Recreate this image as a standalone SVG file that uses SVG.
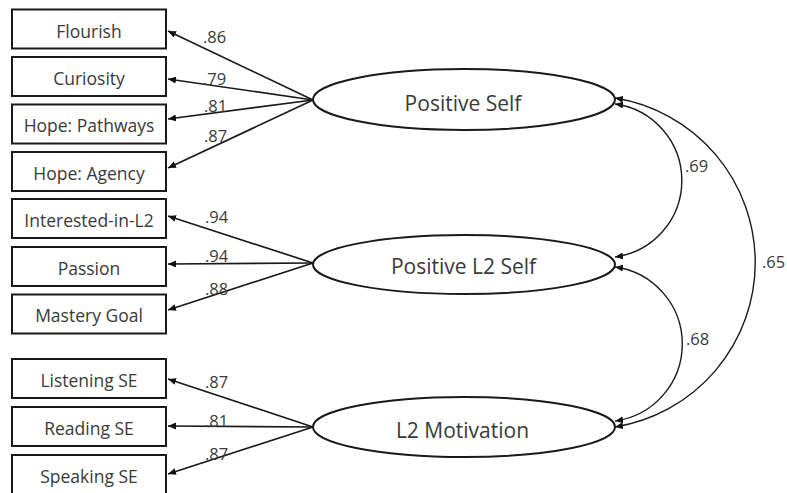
<svg xmlns="http://www.w3.org/2000/svg" width="787" height="493" viewBox="0 0 787 493">
  <style>
    .box { fill: #ffffff; stroke: #1a1a1a; stroke-width: 2; }
    .lat { fill: #ffffff; stroke: #1a1a1a; stroke-width: 2; }
    .lbl { font-family: "Open Sans", "Liberation Sans", sans-serif; font-size: 17.5px; fill: #3a3a3a; text-anchor: middle; }
    .lat-lbl { font-family: "Open Sans", "Liberation Sans", sans-serif; font-size: 21px; fill: #3a3a3a; text-anchor: middle; }
    .coef { font-family: "Open Sans", "Liberation Sans", sans-serif; font-size: 16.5px; fill: #3a3a3a; }
    .load { fill: none; stroke: #1a1a1a; stroke-width: 1.7; marker-end: url(#arrow); }
    .cov { fill: none; stroke: #1a1a1a; stroke-width: 1.4; marker-start: url(#arrow); marker-end: url(#arrow); }
  </style>
  <defs>
    <marker id="arrow" markerUnits="userSpaceOnUse" markerWidth="9" markerHeight="8" refX="8" refY="3.5" orient="auto-start-reverse">
      <path d="M0,0 L8,3.5 L0,7 z" fill="#111111"/>
    </marker>
  </defs>
  <rect width="787" height="493" fill="#ffffff"/>

  <!-- indicator boxes -->
  <g id="flourish"><rect class="box" x="12" y="9.5" width="154" height="39"/><text class="lbl" x="89" y="37.5">Flourish</text></g>
  <g id="curiosity"><rect class="box" x="12" y="57" width="154" height="39"/><text class="lbl" x="89" y="84.5">Curiosity</text></g>
  <g id="hope-pathways"><rect class="box" x="12" y="104.5" width="154" height="39"/><text class="lbl" x="89" y="132">Hope: Pathways</text></g>
  <g id="hope-agency"><rect class="box" x="12" y="152" width="154" height="39"/><text class="lbl" x="89" y="179.5">Hope: Agency</text></g>
  <g id="interested-in-l2"><rect class="box" x="12" y="199" width="154" height="39"/><text class="lbl" x="89" y="226.5">Interested-in-L2</text></g>
  <g id="passion"><rect class="box" x="12" y="247" width="154" height="39"/><text class="lbl" x="89" y="274.5">Passion</text></g>
  <g id="mastery-goal"><rect class="box" x="12" y="294.5" width="154" height="39"/><text class="lbl" x="89" y="322">Mastery Goal</text></g>
  <g id="listening-se"><rect class="box" x="12" y="359" width="154" height="39"/><text class="lbl" x="89" y="386.5">Listening SE</text></g>
  <g id="reading-se"><rect class="box" x="12" y="407" width="154" height="39"/><text class="lbl" x="89" y="434.5">Reading SE</text></g>
  <g id="speaking-se"><rect class="box" x="12" y="455" width="154" height="40"/><text class="lbl" x="89" y="482.5">Speaking SE</text></g>

  <!-- latent factors -->
  <g id="positive-self"><ellipse class="lat" cx="464" cy="99.5" rx="151" ry="30.5"/><text class="lat-lbl" x="463" y="110.5">Positive Self</text></g>
  <g id="positive-l2-self"><ellipse class="lat" cx="464" cy="264.5" rx="151" ry="29.5"/><text class="lat-lbl" x="463.5" y="273.5">Positive L2 Self</text></g>
  <g id="l2-motivation"><ellipse class="lat" cx="464" cy="427" rx="151" ry="30"/><text class="lat-lbl" x="462.5" y="437.5">L2 Motivation</text></g>

  <!-- loadings and factor covariances -->
  <g id="connectors">
    <line class="load" x1="313" y1="100" x2="168" y2="31"/>
    <line class="load" x1="313" y1="100" x2="168" y2="79"/>
    <line class="load" x1="313" y1="100" x2="168" y2="119"/>
    <line class="load" x1="313" y1="100" x2="168" y2="168"/>
    <line class="load" x1="313" y1="263" x2="168" y2="216"/>
    <line class="load" x1="313" y1="263" x2="168" y2="264"/>
    <line class="load" x1="313" y1="263" x2="168" y2="310"/>
    <line class="load" x1="313" y1="427" x2="168" y2="379"/>
    <line class="load" x1="313" y1="427" x2="168" y2="426"/>
    <line class="load" x1="313" y1="427" x2="168" y2="474"/>

    <path class="cov" d="M615,104 A77.2,77.2 0 0 1 615,257"/>
    <path class="cov" d="M615,267 A77.7,77.7 0 0 1 615,421"/>
    <path class="cov" d="M615,98 A166.6,166.6 0 0 1 615,427"/>
  </g>

  <!-- coefficients -->
  <g id="coefficients">
    <text class="coef" x="203" y="43">.86</text>
    <text class="coef" x="203" y="85">.79</text>
    <text class="coef" x="204" y="112">.81</text>
    <text class="coef" x="204" y="142">.87</text>
    <text class="coef" x="205" y="223">.94</text>
    <text class="coef" x="205" y="262">.94</text>
    <text class="coef" x="205" y="295">.88</text>
    <text class="coef" x="205" y="388">.87</text>
    <text class="coef" x="205" y="427">.81</text>
    <text class="coef" x="205" y="460">.87</text>
    <text class="coef" x="685" y="172">.69</text>
    <text class="coef" x="686" y="345">.68</text>
    <text class="coef" x="762" y="268">.65</text>
  </g>
</svg>
